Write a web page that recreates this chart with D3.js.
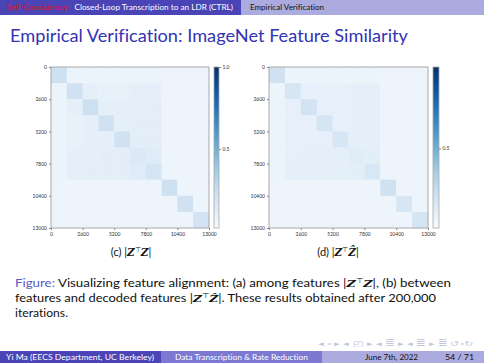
<!DOCTYPE html>
<html><head><meta charset="utf-8">
<script src="https://cdn.jsdelivr.net/npm/d3@7"></script>
<style>
html,body{margin:0;padding:0;background:#fff;}
svg{display:block;}
text{font-family:"Lato","Open Sans",sans-serif;font-variant-ligatures:none;font-feature-settings:"liga" 0;}
</style></head>
<body>
<svg id="slide" width="484" height="363"></svg>
<script>
// ---- data ----
const blocks = [0,1,2,3,4,5,6,7,8,9];          // class blocks, 1300 samples each
const blockSize = 1300;
const tickLabels = [0,2600,5200,7800,10400,13000];
const cbTicksLeft = [0.5,1.0];
const cbTicksRight = [0.5];
const simZZ = [
 [0.22,0.08,0.08,0.08,0.08,0.08,0.08,0.07,0.07,0.07],
 [0.08,0.21,0.11,0.10,0.10,0.11,0.11,0.07,0.07,0.07],
 [0.08,0.11,0.23,0.11,0.11,0.11,0.12,0.07,0.07,0.07],
 [0.08,0.10,0.11,0.21,0.11,0.12,0.12,0.07,0.07,0.07],
 [0.08,0.10,0.11,0.11,0.21,0.12,0.12,0.07,0.07,0.07],
 [0.08,0.11,0.11,0.12,0.12,0.16,0.14,0.07,0.07,0.07],
 [0.08,0.11,0.12,0.12,0.12,0.14,0.19,0.07,0.07,0.07],
 [0.07,0.07,0.07,0.07,0.07,0.07,0.07,0.22,0.07,0.07],
 [0.07,0.07,0.07,0.07,0.07,0.07,0.07,0.07,0.21,0.07],
 [0.07,0.07,0.07,0.07,0.07,0.07,0.07,0.07,0.07,0.20]
];
const simZZhat = [
 [0.21,0.08,0.08,0.08,0.08,0.08,0.08,0.07,0.07,0.07],
 [0.08,0.18,0.10,0.10,0.10,0.11,0.11,0.07,0.07,0.07],
 [0.08,0.10,0.20,0.10,0.10,0.11,0.11,0.07,0.07,0.07],
 [0.08,0.10,0.10,0.19,0.10,0.11,0.11,0.07,0.07,0.07],
 [0.08,0.10,0.10,0.10,0.18,0.11,0.11,0.07,0.07,0.07],
 [0.08,0.10,0.11,0.11,0.11,0.13,0.12,0.07,0.07,0.07],
 [0.08,0.11,0.11,0.11,0.11,0.12,0.17,0.07,0.07,0.07],
 [0.07,0.07,0.07,0.07,0.07,0.07,0.07,0.21,0.07,0.07],
 [0.07,0.07,0.07,0.07,0.07,0.07,0.07,0.07,0.18,0.07],
 [0.07,0.07,0.07,0.07,0.07,0.07,0.07,0.07,0.07,0.19]
];

const svg = d3.select("#slide");
const DARK="#4a44b6", MID="#7b79d2", LIGHT="#ababdf", TITLE="#3333b3";

// ---- header ----
svg.append("rect").attr("x",0).attr("y",0).attr("width",241).attr("height",15).attr("fill",DARK);
svg.append("rect").attr("x",241).attr("y",0).attr("width",243).attr("height",15).attr("fill",LIGHT);
const h1 = svg.append("text").attr("x",7).attr("y",10).attr("font-size",6.6);
h1.append("tspan").attr("fill","#e0101a").text("Self-Consistency:");
h1.append("tspan").attr("fill","#fff").attr("dx",4).text("Closed-Loop Transcription to an LDR (CTRL)");
h1.attr("textLength",226).attr("lengthAdjust","spacingAndGlyphs");
svg.append("text").attr("x",250).attr("y",10).attr("font-size",6.6).attr("fill","#111")
  .attr("textLength",74).attr("lengthAdjust","spacingAndGlyphs").text("Empirical Verification");

// ---- title ----
svg.append("text").attr("x",10).attr("y",42).attr("font-size",17.5).attr("fill",TITLE)
  .attr("textLength",398).attr("lengthAdjust","spacingAndGlyphs")
  .text("Empirical Verification: ImageNet Feature Similarity");

// ---- heatmaps ----
function heatmap(cfg){
  const g = svg.append("g");
  const x = d3.scaleLinear().domain([0,13000]).range([cfg.x0,cfg.x1]);
  const y = d3.scaleLinear().domain([0,13000]).range([cfg.y0,cfg.y1]);
  const color = d3.scaleSequential(d3.interpolateBlues).domain(cfg.domain);
  const cells = [];
  blocks.forEach(i=>blocks.forEach(j=>cells.push({i,j,v:cfg.data[i][j]})));
  g.selectAll("rect.cell").data(cells).join("rect").attr("class","cell")
    .attr("x",d=>x(d.j*blockSize)).attr("y",d=>y(d.i*blockSize))
    .attr("width",d=>x((d.j+1)*blockSize)-x(d.j*blockSize)+0.3)
    .attr("height",d=>y((d.i+1)*blockSize)-y(d.i*blockSize)+0.3)
    .attr("fill",d=>color(d.v));
  g.append("rect").attr("x",cfg.x0).attr("y",cfg.y0).attr("width",cfg.x1-cfg.x0).attr("height",cfg.y1-cfg.y0)
    .attr("fill","none").attr("stroke","#a9a9a9").attr("stroke-width",1);
  const xa = g.append("g").attr("transform",`translate(0,${cfg.y1})`)
    .call(d3.axisBottom(x).tickValues(tickLabels).tickSize(2).tickPadding(2).tickFormat(d3.format("d")));
  const ya = g.append("g").attr("transform",`translate(${cfg.x0},0)`)
    .call(d3.axisLeft(y).tickValues(tickLabels).tickSize(2).tickPadding(2).tickFormat(d3.format("d")));
  [xa,ya].forEach(a=>{
    a.select(".domain").remove();
    a.selectAll("line").attr("stroke","#888");
    a.selectAll("text").attr("font-size",5).attr("fill","#333").attr("font-family","DejaVu Sans");
  });
  // colorbar
  const gid = "grad"+cfg.id;
  const grad = svg.append("defs").append("linearGradient").attr("id",gid)
    .attr("x1",0).attr("y1",1).attr("x2",0).attr("y2",0);
  d3.range(0,1.0001,0.05).forEach(t=>grad.append("stop").attr("offset",t)
    .attr("stop-color",color(cfg.domain[0]+t*(cfg.domain[1]-cfg.domain[0]))));
  const cy = d3.scaleLinear().domain(cfg.domain).range([cfg.y1,cfg.y0]);
  g.append("rect").attr("x",cfg.cb0).attr("y",cfg.y0).attr("width",cfg.cb1-cfg.cb0).attr("height",cfg.y1-cfg.y0)
    .attr("fill",`url(#${gid})`).attr("stroke","#a9a9a9").attr("stroke-width",0.8);
  const ca = g.append("g").attr("transform",`translate(${cfg.cb1},0)`)
    .call(d3.axisRight(cy).tickValues(cfg.cbTicks).tickSize(2).tickPadding(1.5).tickFormat(d3.format(".1f")));
  ca.select(".domain").remove();
  ca.selectAll("line").attr("stroke","#888");
  ca.selectAll("text").attr("font-size",5).attr("fill","#333").attr("font-family","DejaVu Sans");
}
heatmap({id:"L",data:simZZ,x0:51,x1:209,y0:67,y1:228,cb0:214,cb1:219,domain:[0.02,1.0],cbTicks:cbTicksLeft});
heatmap({id:"R",data:simZZhat,x0:269,x1:428,y0:67,y1:228,cb0:433,cb1:439,domain:[0.02,0.99],cbTicks:cbTicksRight});

// ---- sub captions ----
function subcap(xc, label, hat){
  const t = svg.append("text").attr("x",xc).attr("y",256).attr("font-size",11).attr("fill","#111").attr("text-anchor","middle");
  t.append("tspan").text(label+"  |");
  t.append("tspan").attr("font-family","DejaVu Serif").attr("font-style","italic").attr("font-weight","bold").attr("font-size",10.5).text("Z");
  t.append("tspan").attr("font-size",7).attr("dy",-4).text("⊤");
  t.append("tspan").attr("dy",4).attr("font-family","DejaVu Serif").attr("font-style","italic").attr("font-weight","bold").attr("font-size",10.5).text(hat?"Ẑ":"Z");
  t.append("tspan").text("|");
}
subcap(131,"(c)",false);
subcap(338,"(d)",true);

// ---- figure caption ----
function mathZ(t,hat){
  t.append("tspan").text("|");
  t.append("tspan").attr("font-family","DejaVu Serif").attr("font-style","italic").attr("font-weight","bold").attr("font-size",10).text("Z");
  t.append("tspan").attr("font-size",7).attr("dy",-4).text("⊤");
  t.append("tspan").attr("dy",4).attr("font-family","DejaVu Serif").attr("font-style","italic").attr("font-weight","bold").attr("font-size",10).text(hat?"Ẑ":"Z");
  t.append("tspan").text("|");
}
const c1 = svg.append("text").attr("x",15).attr("y",287).attr("font-size",10.5).attr("fill","#111");
c1.append("tspan").attr("fill","#5a5ac8").text("Figure:");
c1.append("tspan").text(" Visualizing feature alignment: (a) among features ");
mathZ(c1,false);
c1.append("tspan").text(", (b) between");
c1.attr("textLength",436).attr("lengthAdjust","spacingAndGlyphs");
const c2 = svg.append("text").attr("x",15).attr("y",302).attr("font-size",10.5).attr("fill","#111");
c2.append("tspan").text("features and decoded features ");
mathZ(c2,true);
c2.append("tspan").text(". These results obtained after 200,000");
c2.attr("textLength",421).attr("lengthAdjust","spacingAndGlyphs");
svg.append("text").attr("x",15).attr("y",317).attr("font-size",10.5).attr("fill","#111")
  .attr("textLength",53).attr("lengthAdjust","spacingAndGlyphs").text("iterations.");

// ---- navigation symbols ----
svg.append("text").attr("x",318).attr("y",346).attr("font-size",6.5).attr("fill","#c4c4de")
  .attr("font-family","DejaVu Sans").attr("textLength",156).attr("lengthAdjust","spacingAndGlyphs")
  .text("◂ ▫ ▸  ◂ ◰ ▸  ◂ ≣ ▸  ◂ ≣ ▸   ≣   ↺◦↻");

// ---- footer ----
svg.append("rect").attr("x",0).attr("y",351).attr("width",161).attr("height",12).attr("fill",DARK);
svg.append("rect").attr("x",161).attr("y",351).attr("width",161).attr("height",12).attr("fill",MID);
svg.append("rect").attr("x",322).attr("y",351).attr("width",162).attr("height",12).attr("fill",LIGHT);
svg.append("text").attr("x",6).attr("y",360).attr("font-size",6.6).attr("fill","#fff")
  .attr("textLength",148).attr("lengthAdjust","spacingAndGlyphs").text("Yi Ma  (EECS Department, UC Berkeley)");
svg.append("text").attr("x",175).attr("y",360).attr("font-size",6.6).attr("fill","#fff")
  .attr("textLength",133).attr("lengthAdjust","spacingAndGlyphs").text("Data Transcription & Rate Reduction");
svg.append("text").attr("x",365).attr("y",360).attr("font-size",6.6).attr("fill","#111")
  .attr("textLength",53).attr("lengthAdjust","spacingAndGlyphs").text("June 7th, 2022");
svg.append("text").attr("x",445).attr("y",360).attr("font-size",6.6).attr("fill","#111")
  .attr("textLength",29).attr("lengthAdjust","spacingAndGlyphs").text("54 / 71");
</script>
</body></html>
